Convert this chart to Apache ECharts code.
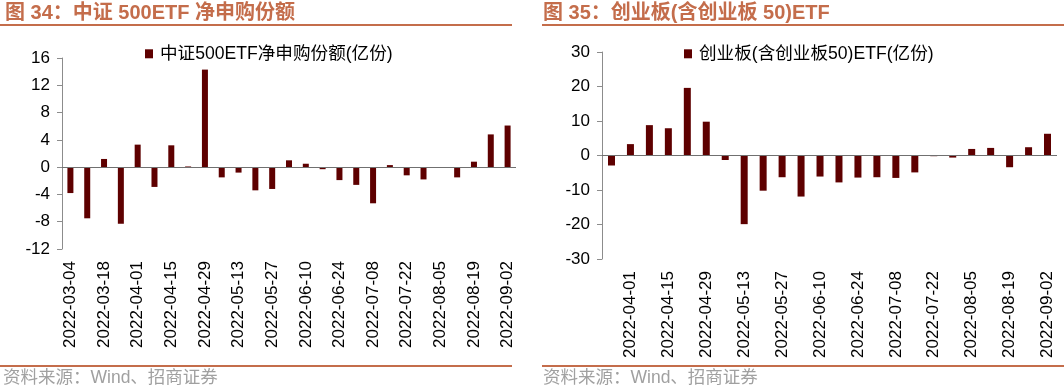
<!DOCTYPE html>
<html>
<head>
<meta charset="utf-8">
<script src="https://cdn.jsdelivr.net/npm/echarts@6/dist/echarts.min.js"></script>
<style>
html,body{margin:0;padding:0;background:#fff;}
#c{width:1064px;height:391px;}
</style>
</head>
<body>
<div id="c"></div>
<script>
// ---- data ----
const leftTitle = '图 34：中证 500ETF 净申购份额';
const rightTitle = '图 35：创业板(含创业板 50)ETF';
const sourceText = '资料来源：Wind、招商证券';
const leftSeriesName = '中证500ETF净申购份额(亿份)';
const rightSeriesName = '创业板(含创业板50)ETF(亿份)';
const leftDates = ['2022-03-04','2022-03-11','2022-03-18','2022-03-25','2022-04-01','2022-04-08','2022-04-15','2022-04-22','2022-04-29','2022-05-06','2022-05-13','2022-05-20','2022-05-27','2022-06-03','2022-06-10','2022-06-17','2022-06-24','2022-07-01','2022-07-08','2022-07-15','2022-07-22','2022-07-29','2022-08-05','2022-08-12','2022-08-19','2022-08-26','2022-09-02'];
const leftValues = [-3.8,-7.5,1.2,-8.3,3.3,-2.9,3.2,0.1,14.3,-1.5,-0.8,-3.4,-3.2,1.0,0.5,-0.3,-1.9,-2.6,-5.3,0.3,-1.2,-1.8,0.0,-1.5,0.8,4.8,6.1];
const rightDates = ['2022-03-25','2022-04-01','2022-04-08','2022-04-15','2022-04-22','2022-04-29','2022-05-06','2022-05-13','2022-05-20','2022-05-27','2022-06-03','2022-06-10','2022-06-17','2022-06-24','2022-07-01','2022-07-08','2022-07-15','2022-07-22','2022-07-29','2022-08-05','2022-08-12','2022-08-19','2022-08-26','2022-09-02'];
const rightValues = [-2.9,3.3,8.8,7.9,19.6,9.8,-1.3,-19.9,-10.2,-6.3,-11.9,-6.1,-7.8,-6.4,-6.3,-6.5,-4.9,-0.2,-0.6,1.9,2.2,-3.4,2.4,6.3];

const FONT = '"Liberation Sans", Arial, "Noto Sans CJK SC", sans-serif';
const ACCENT = '#C46D4B';
const BAR = '#5E0000';
const AXIS = '#8C8C8C';

const chart = echarts.init(document.getElementById('c'), null, {renderer:'canvas'});

function yAxis(gi, min, max, interval){
  return {
    type:'value', gridIndex:gi, min:min, max:max, interval:interval,
    axisLine:{show:true, lineStyle:{color:AXIS, width:1}},
    axisTick:{show:true, length:5, lineStyle:{color:AXIS}},
    splitLine:{show:false},
    axisLabel:{color:'#000', fontSize:17, fontFamily:FONT, margin:12}
  };
}
function xAxis(gi, data, intervalFn){
  return {
    type:'category', gridIndex:gi, data:data,
    axisLine:{show:false, onZero:false},
    axisTick:{show:false},
    axisLabel:{rotate:90, interval:intervalFn, color:'#000', fontSize:17, fontFamily:FONT, margin:12}
  };
}
function zeroLine(){
  return {
    silent:true, symbol:'none', label:{show:false},
    lineStyle:{color:'#707070', width:1, type:'solid'},
    data:[{yAxis:0}]
  };
}

chart.setOption({
  animation:false,
  textStyle:{fontFamily:FONT},
  grid:[
    {left:62, top:58, width:454, height:191},
    {left:602, top:52, width:455, height:207}
  ],
  xAxis:[
    xAxis(0, leftDates, function(i){return i % 2 === 0;}),
    xAxis(1, rightDates, function(i){return i % 2 === 1;})
  ],
  yAxis:[
    yAxis(0, -12, 16, 4),
    yAxis(1, -30, 30, 10)
  ],
  legend:[
    {data:[leftSeriesName], left:145, top:45, padding:0, itemWidth:8, itemHeight:9, itemGap:5, icon:'rect',
     textStyle:{fontSize:17.6, color:'#000', fontFamily:FONT, padding:[0,0,0,2]}},
    {data:[rightSeriesName], left:684, top:45, padding:0, itemWidth:8, itemHeight:9, itemGap:5, icon:'rect',
     textStyle:{fontSize:17.6, color:'#000', fontFamily:FONT, padding:[0,0,0,2]}}
  ],
  series:[
    {name:leftSeriesName, type:'bar', xAxisIndex:0, yAxisIndex:0, data:leftValues, barWidth:6,
     itemStyle:{color:BAR}, markLine:zeroLine()},
    {name:rightSeriesName, type:'bar', xAxisIndex:1, yAxisIndex:1, data:rightValues, barWidth:7,
     itemStyle:{color:BAR}, markLine:zeroLine()}
  ],
  graphic:[
    {type:'text', left:5, top:3, style:{text:leftTitle, fill:ACCENT, font:'bold 20px ' + FONT}},
    {type:'text', left:543, top:3, style:{text:rightTitle, fill:ACCENT, font:'bold 20px ' + FONT}},
    {type:'rect', shape:{x:0, y:24, width:512, height:2}, style:{fill:ACCENT}},
    {type:'rect', shape:{x:542, y:24, width:522, height:2}, style:{fill:ACCENT}},
    {type:'rect', shape:{x:0, y:365, width:512, height:2}, style:{fill:ACCENT}},
    {type:'rect', shape:{x:542, y:365, width:522, height:2}, style:{fill:ACCENT}},
    {type:'text', left:3, top:369, style:{text:sourceText, fill:'#A0A0A0', font:'17.5px ' + FONT}},
    {type:'text', left:543, top:369, style:{text:sourceText, fill:'#A0A0A0', font:'17.5px ' + FONT}}
  ]
});
</script>
</body>
</html>
